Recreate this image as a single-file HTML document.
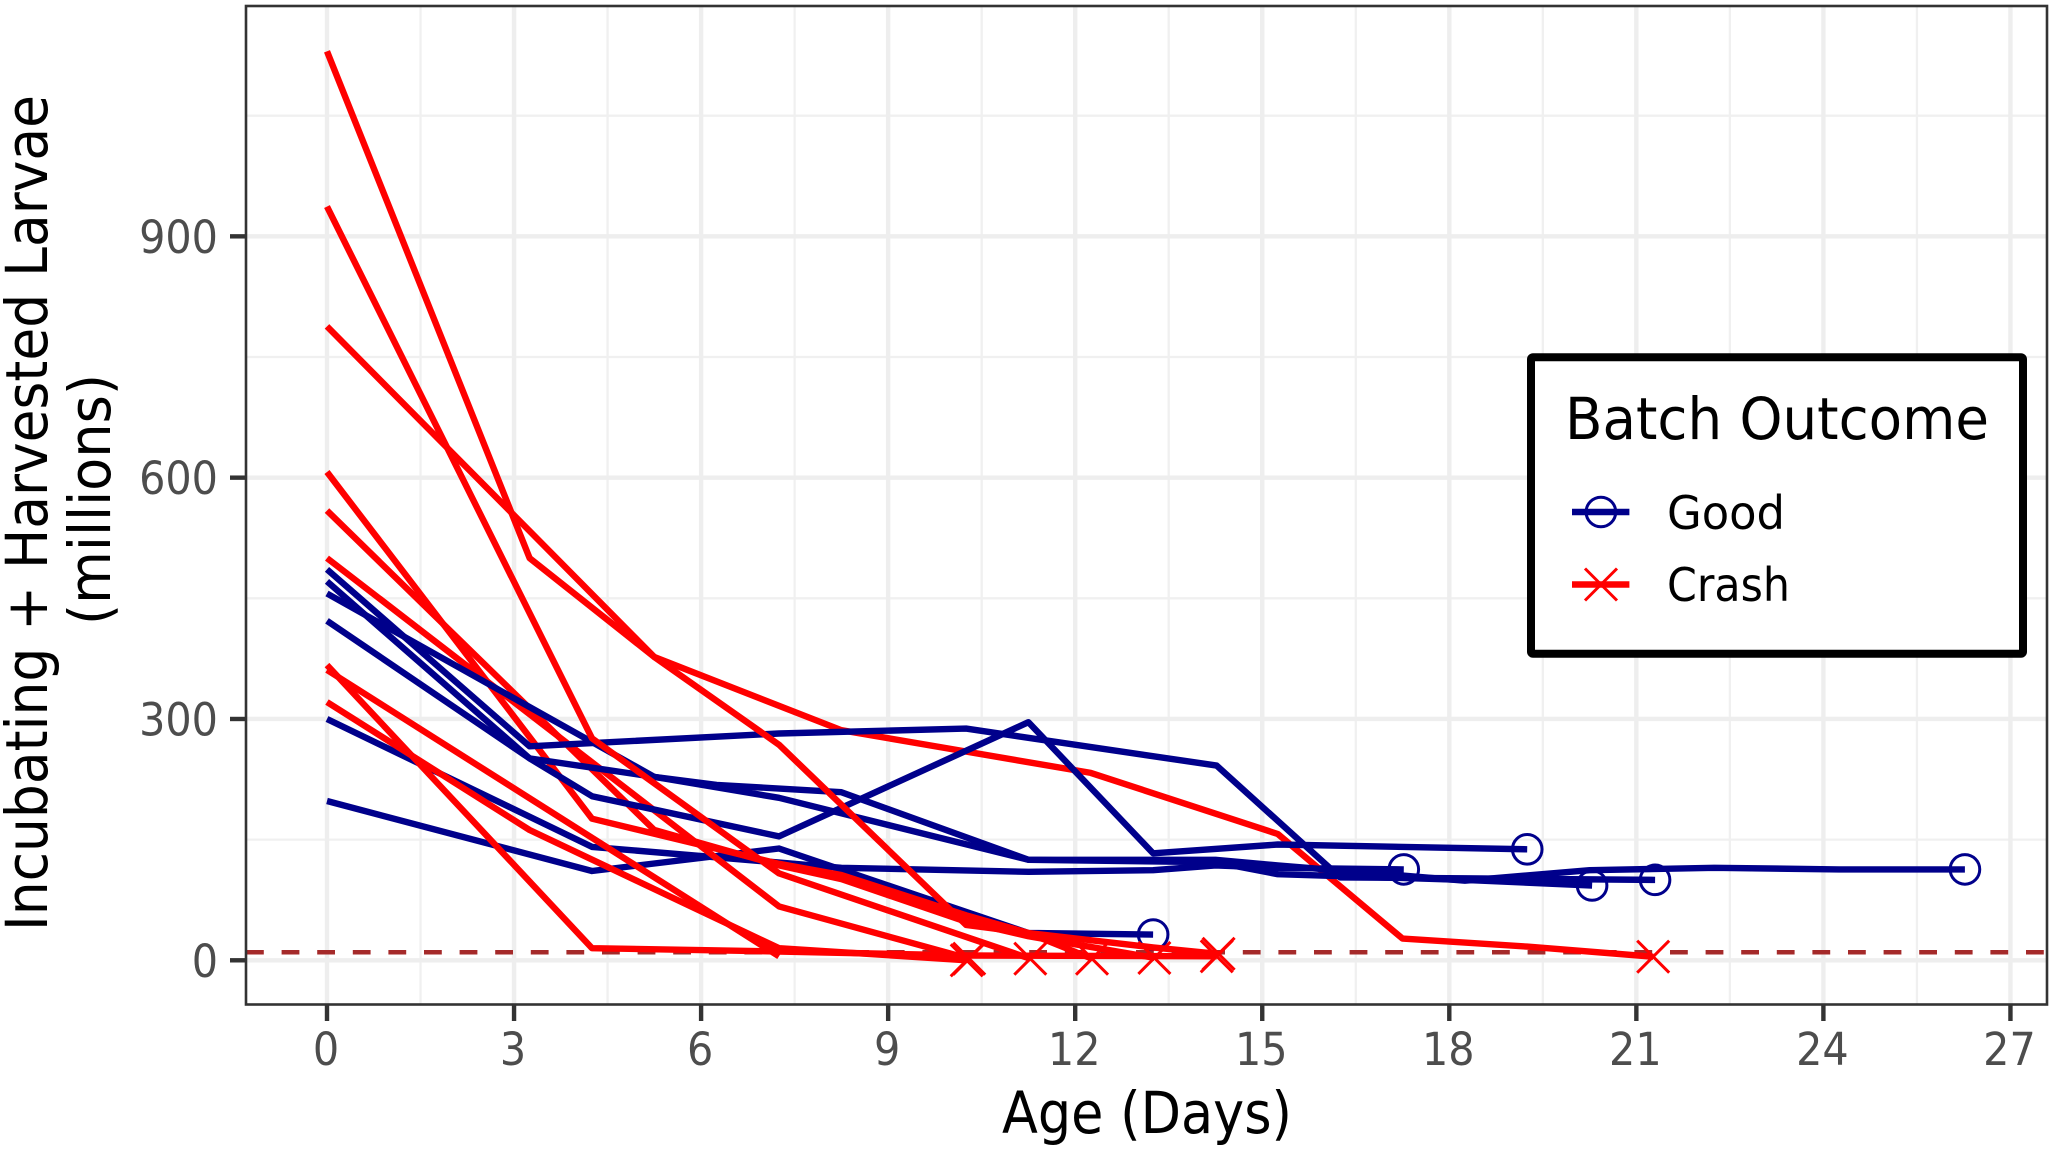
<!DOCTYPE html>
<html lang="en">
<head>
<meta charset="utf-8">
<title>Incubating + Harvested Larvae by Age</title>
<style>
html,body{margin:0;padding:0;background:#fff;}
svg{display:block;}
text{font-family:"DejaVu Sans","Liberation Sans",sans-serif;}
</style>
</head>
<body>
<svg id="chart" xmlns="http://www.w3.org/2000/svg" width="2049" height="1153" viewBox="0 0 2049 1153">
  <rect x="0" y="0" width="2049" height="1153" fill="#ffffff"/>
  <g id="grid"></g>
  <g id="threshold"></g>
  <g id="series"></g>
  <rect x="246" y="6" width="1801" height="998.5" fill="none" stroke="#333333" stroke-width="2.6"/>
  <g id="axes"></g>
  <text x="1002" y="1133" font-size="58" fill="#000" textLength="290" lengthAdjust="spacingAndGlyphs">Age (Days)</text>
  <text transform="translate(47,931) rotate(-90)" font-size="58" fill="#000" textLength="836" lengthAdjust="spacingAndGlyphs">Incubating + Harvested Larvae</text>
  <text transform="translate(110,625) rotate(-90)" font-size="58" fill="#000" textLength="251" lengthAdjust="spacingAndGlyphs">(millions)</text>
  <g>
    <rect x="1531" y="357.3" width="492" height="296.4" rx="2" fill="#ffffff" stroke="#000000" stroke-width="8" stroke-linejoin="round"/>
    <text x="1565" y="439" font-size="58" fill="#000" textLength="424" lengthAdjust="spacingAndGlyphs">Batch Outcome</text>
    <g>
      <line x1="1572" y1="512" x2="1629.4" y2="512" stroke="#00008b" stroke-width="6.6"/>
      <circle cx="1600.9" cy="512" r="14.8" fill="none" stroke="#00008b" stroke-width="3"/>
      <text x="1667" y="529" font-size="46" fill="#000" textLength="118" lengthAdjust="spacingAndGlyphs">Good</text>
    </g>
    <g>
      <line x1="1572" y1="584.5" x2="1629.4" y2="584.5" stroke="#ff0000" stroke-width="6.6"/>
      <path d="M1585 568.500L1617 600.500M1585 600.500L1617 568.500" fill="none" stroke="#ff0000" stroke-width="3"/>
      <text x="1667" y="601" font-size="46" fill="#000" textLength="123" lengthAdjust="spacingAndGlyphs">Crash</text>
    </g>
  </g>
</svg>
<script>
const xTickValues = [0, 3, 6, 9, 12, 15, 18, 21, 24, 27];
const xTickLabels = ["0", "3", "6", "9", "12", "15", "18", "21", "24", "27"];
const xMinorValues = [1.5, 4.5, 7.5, 10.5, 13.5, 16.5, 19.5, 22.5, 25.5];
const yTickValues = [0, 300, 600, 900];
const yTickLabels = ["0", "300", "600", "900"];
const yMinorValues = [150, 450, 750, 1050];
const thresholdValue = 10;

const batchNames = ["good-1", "good-2", "crash-607", "crash-559", "crash-788", "crash-500", "good-3", "good-4", "good-5", "good-6", "crash-1130", "crash-937", "crash-367", "crash-361", "crash-321"];
const batchOutcomes = ["Good", "Good", "Crash", "Crash", "Crash", "Crash", "Good", "Good", "Good", "Good", "Crash", "Crash", "Crash", "Crash", "Crash"];
const batchEndMarked = [true, true, true, true, true, true, true, true, true, true, true, true, true, false, true];
const batchDays = [
  [0, 4.25, 7.25, 11.25, 13.25],
  [0, 4.25, 8.25, 11.25, 13.25, 14.25, 15.25, 17.27],
  [0, 4.25, 7.25, 8.25, 10.25, 11.25, 12.27],
  [0, 5.25, 7.25, 8.25, 10.25, 11.25, 13.27],
  [0, 5.25, 8.25, 12.25, 15.25, 17.25, 19.25, 21.27],
  [0, 7.25, 10.3],
  [0, 3.25, 7.25, 10.25, 14.27, 16.25, 18.25, 21.3],
  [0, 3.25, 4.25, 7.25, 11.25, 13.25, 15.25, 19.25],
  [0, 3.25, 5.25, 6.25, 8.25, 11.25, 14.25, 15.25, 18.25, 20.29],
  [0, 5.25, 7.25, 11.25, 14.25, 15.25, 18.25, 20.25, 22.25, 24.25, 26.27],
  [0, 3.25, 5.25, 7.25, 10.25, 11.25, 13.25, 14.3],
  [0, 4.25, 7.25, 11.28],
  [0, 4.25, 7.25, 10.25, 14.27],
  [0, 7.25],
  [0, 3.25, 7.25, 10.26]
];
const batchValues = [
  [198, 111, 139, 34, 32],
  [300, 141, 115, 110, 112, 118, 115, 113],
  [607, 176, 120, 106, 56, 34, 2],
  [559, 162, 118, 101, 48, 30, 3],
  [788, 377, 286, 233, 157, 27, 17, 4.5],
  [500, 67, 2],
  [486, 266, 282, 288, 242, 103, 102, 100],
  [471, 251, 204, 154, 296, 133, 144, 138],
  [422, 251, 228, 218, 209, 125, 122, 107, 100, 93],
  [456, 228, 202, 125, 125, 118, 99, 112, 115, 113, 113],
  [1130, 500, 377, 268, 44, 34, 16, 8],
  [937, 276, 108, 2],
  [367, 15, 11, 6, 5],
  [361, 5],
  [321, 162, 15, 0]
];

const NS = "http://www.w3.org/2000/svg";
const outcomeColor = {Good: "#00008b", Crash: "#ff0000"};
function xScale(d) { return 327 + d * 62.35; }
function yScale(v) { return 960.3 - v * 0.8044; }
function make(parent, tag, attrs) {
  const el = document.createElementNS(NS, tag);
  for (const k in attrs) el.setAttribute(k, attrs[k]);
  parent.appendChild(el);
  return el;
}

const grid = document.getElementById("grid");
xMinorValues.forEach(function (d) {
  const el = make(grid, "line", {x1: xScale(d), x2: xScale(d), y1: 6, y2: 1004.5, stroke: "#f0f0f0", "stroke-width": 2.3});
  
  
});
yMinorValues.forEach(function (v) {
  const el = make(grid, "line", {x1: 246, x2: 2047, y1: yScale(v), y2: yScale(v), stroke: "#f0f0f0", "stroke-width": 2.3});
  
  
});
xTickValues.forEach(function (d) {
  const el = make(grid, "line", {x1: xScale(d), x2: xScale(d), y1: 6, y2: 1004.5, stroke: "#eeeeee", "stroke-width": 4.4});
  
  
});
yTickValues.forEach(function (v) {
  const el = make(grid, "line", {x1: 246, x2: 2047, y1: yScale(v), y2: yScale(v), stroke: "#eeeeee", "stroke-width": 4.4});
  
  
});

const thresholdLine = make(document.getElementById("threshold"), "line", {x1: 246, x2: 2047, y1: yScale(thresholdValue), y2: yScale(thresholdValue), stroke: "#a52a2a", "stroke-width": 4.4, "stroke-dasharray": "17.8 17.8"});



const seriesLayer = document.getElementById("series");
batchNames.forEach(function (name, i) {
  const color = outcomeColor[batchOutcomes[i]];
  const days = batchDays[i];
  const values = batchValues[i];
  const points = days.map(function (d, j) { return xScale(d).toFixed(1) + "," + yScale(values[j]).toFixed(1); }).join(" ");
  const line = make(seriesLayer, "polyline", {points: points, fill: "none", stroke: color, "stroke-width": 6.4, "stroke-linejoin": "round", "stroke-linecap": "butt"});
  
  
  if (!batchEndMarked[i]) return;
  const cx = xScale(days[days.length - 1]);
  const cy = yScale(values[values.length - 1]);
  if (batchOutcomes[i] === "Good") {
    const circle = make(seriesLayer, "circle", {cx: cx, cy: cy, r: 14.8, fill: "none", stroke: color, "stroke-width": 3});
    
    
  } else {
    const s = 16;
    const cross = make(seriesLayer, "path", {d: "M" + (cx - s) + " " + (cy - s) + "L" + (cx + s) + " " + (cy + s) + "M" + (cx - s) + " " + (cy + s) + "L" + (cx + s) + " " + (cy - s), fill: "none", stroke: color, "stroke-width": 3});
    
    
  }
});

const axes = document.getElementById("axes");
xTickValues.forEach(function (d, i) {
  const tick = make(axes, "line", {x1: xScale(d), x2: xScale(d), y1: 1004.5, y2: 1021, stroke: "#333333", "stroke-width": 4.4});
  
  
  const label = make(axes, "text", {x: xScale(d) - 1, y: 1065, "font-size": 45, fill: "#4d4d4d", "text-anchor": "middle", textLength: xTickLabels[i].length * 26.3, lengthAdjust: "spacingAndGlyphs"});
  label.textContent = xTickLabels[i];
  
  
});
yTickValues.forEach(function (v, i) {
  const tick = make(axes, "line", {x1: 230, x2: 246, y1: yScale(v), y2: yScale(v), stroke: "#333333", "stroke-width": 4.4});
  
  
  const label = make(axes, "text", {x: 218, y: yScale(v) + 16.5, "font-size": 45, fill: "#4d4d4d", "text-anchor": "end", textLength: yTickLabels[i].length * 26.3, lengthAdjust: "spacingAndGlyphs"});
  label.textContent = yTickLabels[i];
  
  
});
</script>
</body>
</html>
